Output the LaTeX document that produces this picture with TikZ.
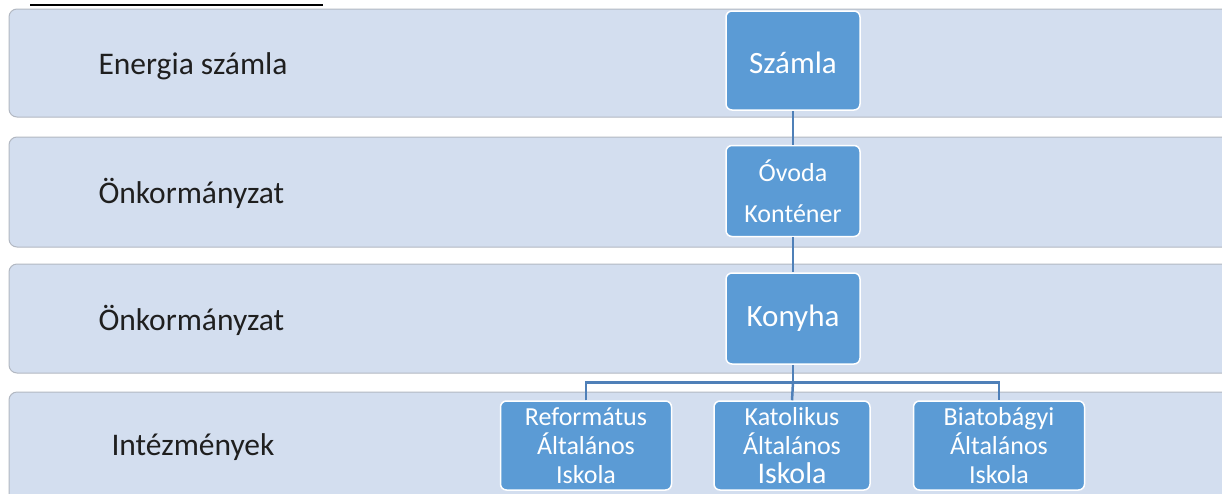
\documentclass[tikz,border=0pt]{standalone}
\usepackage{fontspec}
\setmainfont{Carlito}
\usetikzlibrary{positioning}
\definecolor{bandfill}{HTML}{D3DEEF}
\definecolor{bandline}{HTML}{B2B8C2}
\definecolor{boxfill}{HTML}{5B9BD5}
\definecolor{linkcol}{HTML}{4F80B8}

\begin{document}
\begin{tikzpicture}[x=1pt, y=-1pt,
   band/.style = {fill=bandfill, draw=bandline, line width=1pt, rounded corners=8pt},
   unit/.style = {draw=white, line width=1.5pt, fill=boxfill, rounded corners=6pt,
                  text=white, align=center, inner sep=0pt},
   big/.style  = {unit, minimum width=134pt, font=\fontsize{31}{34}\selectfont},
   school/.style = {unit, minimum width=171pt, minimum height=89pt,
                  font=\fontsize{26}{29}\selectfont},
   lab/.style  = {anchor=west, text=black!88, font=\fontsize{31.5}{34}\selectfont},
   link/.style = {draw=linkcol, line width=2.5pt}]
   \useasboundingbox (0,0) rectangle (1222,493);
   \clip (0,0) rectangle (1222,493);
   \draw[line width=2pt] (30,5) -- (323,5);
   \foreach \t/\b in {9/117, 137/247, 264/373, 392/520}
     \path[band] (9,\t) rectangle (1262,\b);
   \node[lab] (l1) at (95,66)  {Energia számla};
   \node[lab] (l2) at (95,193) {Önkormányzat};
   \node[lab] (l3) at (95,320) {Önkormányzat};
   \node[lab] (l4) at (108,447) {Intézmények};
   % vertical chain of units
   \node[big, minimum height=99pt, text height=26pt, text depth=0pt]
     (szamla) at (793,60.5) {Számla};
   \node[big, minimum height=91pt, font=\fontsize{26}{41}\selectfont]
     (ovoda) at (793,191) {Óvoda\\Konténer};
   \node[big, minimum height=91pt] (konyha) at (793,318.5) {Konyha};
   % schools
   \node[school, minimum width=156pt] (kat) at (792,445.5)
     {Katolikus\\Általános\\{\fontsize{30}{29}\selectfont Iskola}};
   \node[school, left=41pt of kat]  (ref)  {Református\\Általános\\Iskola};
   \node[school, right=42pt of kat] (biat) {Biatobágyi\\Általános\\Iskola};
   \coordinate (bar) at (793,382.5);
   \draw[link] (szamla) -- (ovoda);
   \draw[link] (ovoda) -- (konyha);
   \draw[link] (konyha) -- (bar);
   \draw[link] (ref.north) |- (bar) -| (biat.north);
   \draw[link] (bar) -- (kat.north);
\end{tikzpicture}
\end{document}
